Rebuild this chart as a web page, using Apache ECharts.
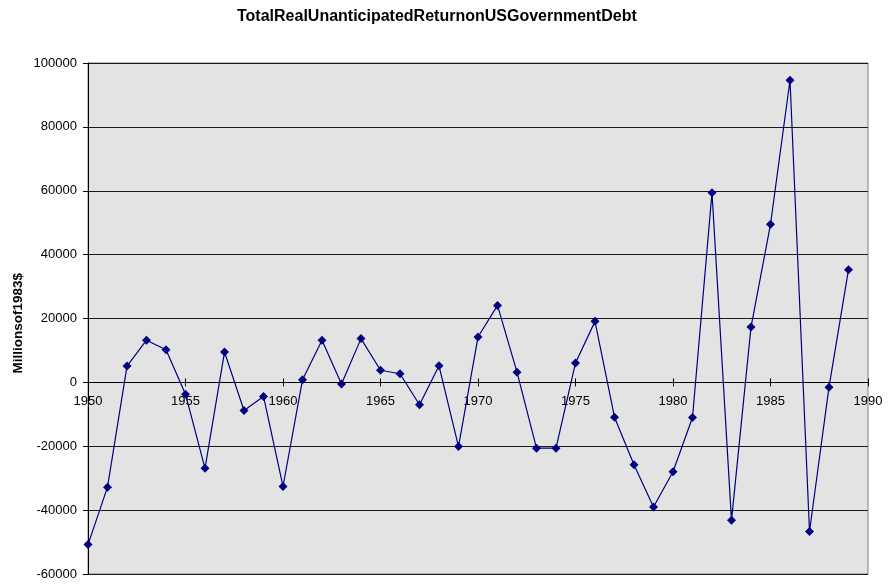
<!DOCTYPE html>
<html>
<head>
<meta charset="utf-8">
<script src="https://cdn.jsdelivr.net/npm/echarts@6/dist/echarts.min.js"></script>
<style>
html,body{margin:0;padding:0;background:#fff;}
#c{width:888px;height:584px;}
</style>
</head>
<body>
<div id="c"></div>
<script>
const titleText = 'TotalRealUnanticipatedReturnonUSGovernmentDebt';
const yAxisName = 'Millionsof1983$';
const years = [1950,1951,1952,1953,1954,1955,1956,1957,1958,1959,1960,1961,1962,1963,1964,1965,1966,1967,1968,1969,1970,1971,1972,1973,1974,1975,1976,1977,1978,1979,1980,1981,1982,1983,1984,1985,1986,1987,1988,1989];
const values = [-50800,-32800,5100,13200,10200,-3700,-26900,9500,-8800,-4400,-32600,800,13200,-500,13700,3800,2700,-7000,5200,-20100,14200,24100,3200,-20600,-20600,6100,19100,-10900,-25800,-39000,-28000,-11000,59400,-43200,17300,49500,94600,-46700,-1500,35300];
const xTicks = [1950,1955,1960,1965,1970,1975,1980,1985,1990];
const yTicks = [-60000,-40000,-20000,0,20000,40000,60000,80000,100000];

const font = 'Liberation Sans, Arial, sans-serif';
const W = 888, H = 584;
const gTop = 63, gBottom = 10, gLeft = 88, gRight = 20;
const yMin = yTicks[0], yMax = yTicks[yTicks.length-1];
const gH = H - gTop - gBottom;
// distance from grid bottom up to the zero line (so the x axis sits on y=0)
const zeroOffset = -gH * (0 - yMin) / (yMax - yMin);

const chart = echarts.init(document.getElementById('c'));
const pts = years.map((y,i)=>[y, values[i]]);
const xBase = {
  type:'value',min:xTicks[0],max:xTicks[xTicks.length-1],interval:5,
  position:'bottom',offset:zeroOffset,
  splitLine:{show:false}
};
chart.setOption({
  animation:false,
  backgroundColor:'#ffffff',
  title:{text:titleText,left:232,top:4,
    textStyle:{fontFamily:font,fontSize:16,fontWeight:'bold',color:'#000'}},
  graphic:[{
    type:'text',left:11,top:H/2+31-50,
    rotation:Math.PI/2,
    style:{text:yAxisName,font:'bold 13.5px '+font,fill:'#000'}
  }],
  grid:{left:gLeft,right:gRight,top:gTop,bottom:gBottom,show:true,backgroundColor:'#e3e3e3',borderColor:'#808080',borderWidth:1},
  xAxis:[Object.assign({}, xBase, {
    axisLine:{show:true,onZero:false,lineStyle:{color:'#000',width:1}},
    axisTick:{show:true,inside:false,length:4,lineStyle:{color:'#000'}},
    axisLabel:{color:'#000',fontFamily:font,fontSize:13,margin:13,formatter:v=>String(v)}
  }), Object.assign({}, xBase, {
    axisLine:{show:false,onZero:false},
    axisTick:{show:true,inside:true,length:4,lineStyle:{color:'#000'}},
    axisLabel:{show:false}
  })],
  yAxis:{
    type:'value',min:yMin,max:yMax,interval:20000,
    axisLine:{show:true,onZero:false,lineStyle:{color:'#000',width:1}},
    axisTick:{show:true,inside:false,length:5,lineStyle:{color:'#000'}},
    axisLabel:{color:'#000',fontFamily:font,fontSize:13,margin:11,formatter:v=>String(v)},
    splitLine:{show:true,lineStyle:{color:'#1a1a1a',width:1}}
  },
  series:[{
    type:'line',xAxisIndex:0,data:pts,
    symbol:'diamond',symbolSize:9,
    lineStyle:{color:'#000080',width:1.2},
    itemStyle:{color:'#000080'},
    z:5
  }]
});
</script>
</body>
</html>
